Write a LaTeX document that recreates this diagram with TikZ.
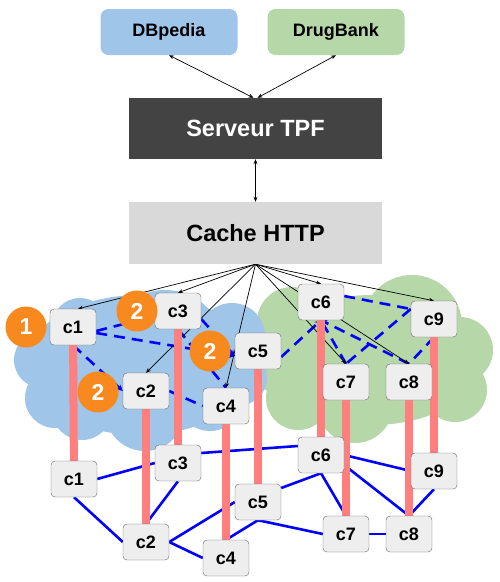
\documentclass[tikz,border=0pt]{standalone}
\usepackage{fontspec}
\setmainfont{Liberation Sans}
\usetikzlibrary{arrows.meta}
\definecolor{dbblue}{HTML}{9FC5E8}
\definecolor{dbgreen}{HTML}{B6D7A8}
\definecolor{tpfdark}{HTML}{434343}
\definecolor{cachegray}{HTML}{D9D9D9}
\definecolor{nodefill}{HTML}{EEEEEE}
\definecolor{nodeline}{HTML}{666666}
\definecolor{hoporange}{HTML}{F7891F}
\definecolor{netblue}{HTML}{0000FF}
\definecolor{barred}{HTML}{FF7F7F}
\pgfdeclarelayer{clouds}
\pgfdeclarelayer{links}
\pgfsetlayers{clouds,links,main}
\tikzset{
  client/.style={draw=nodeline,fill=nodefill,rounded corners=4pt,
    minimum width=46pt,minimum height=36pt,inner sep=0pt,
    font=\fontsize{18}{20}\selectfont\bfseries},
  hop/.style={circle,fill=hoporange,text=white,minimum size=41pt,
    inner sep=0pt,font=\fontsize{23}{25}\selectfont\bfseries},
  dataset/.style={rounded corners=8pt,minimum width=137pt,
    minimum height=46pt,font=\fontsize{18}{20}\selectfont\bfseries},
  tier/.style={minimum width=253pt,minimum height=61pt,
    font=\fontsize{23.5}{26}\selectfont\bfseries},
  fetch/.style={-{Stealth[length=5pt,width=4pt]},line width=0.7pt},
  pair/.style={{Stealth[length=5pt,width=4pt]}-{Stealth[length=5pt,width=4pt]},
    line width=0.7pt},
  peer/.style={draw=netblue,line width=2.6pt,dash pattern=on 11pt off 7pt},
  hopend/.style={-{Stealth[length=6pt,width=6pt]}},
  wire/.style={draw=netblue,line width=2.6pt},
  stack/.style={draw=barred,line width=8pt},
}
\begin{document}
\begin{tikzpicture}[x=1pt,y=-1pt]
  \useasboundingbox (0,0) rectangle (499,582);
  % sources, server and cache
  \node[dataset,fill=dbblue] (db) at (169,32) {DBpedia};
  \node[dataset,fill=dbgreen] (drug) at (336,32) {DrugBank};
  \node[tier,fill=tpfdark,text=white] (tpf) at (255.5,128.5) {Serveur TPF};
  \node[tier,fill=cachegray,minimum height=62pt] (cache) at (255.5,233) {Cache HTTP};
  % clients, upper layer
  \node[client] (t1) at (73,327) {c1};
  \node[client] (t2) at (146,391) {c2};
  \node[client] (t3) at (178,311) {c3};
  \node[client] (t4) at (226,406) {c4};
  \node[client] (t5) at (258,351) {c5};
  \node[client] (t6) at (321,302) {c6};
  \node[client] (t7) at (346,382) {c7};
  \node[client] (t8) at (409,382) {c8};
  \node[client] (t9) at (434,319) {c9};
  % clients, lower layer
  \node[client] (b1) at (74,479) {c1};
  \node[client] (b2) at (146,542) {c2};
  \node[client] (b3) at (178,463) {c3};
  \node[client] (b4) at (226,558) {c4};
  \node[client] (b5) at (258,502) {c5};
  \node[client] (b6) at (321,455) {c6};
  \node[client] (b7) at (346,534) {c7};
  \node[client] (b8) at (409,534) {c8};
  \node[client] (b9) at (434,471) {c9};
  % hops
  \node[hop] (h1) at (26,327) {1};
  \node[hop] (h3) at (137,311) {2};
  \node[hop] (h5) at (210,351) {2};
  \node[hop] (h2) at (98,392) {2};
  \begin{pgfonlayer}{clouds}
    \fill[dbgreen] (372,360) ellipse[x radius=110pt,y radius=65pt];
    \fill[dbgreen] (292,322) circle[radius=35pt];
    \fill[dbgreen] (412,325) circle[radius=50pt];
    \fill[dbgreen] (460,350) circle[radius=33pt];
    \fill[dbgreen] (282,365) circle[radius=30pt];
    \fill[dbgreen] (298,398) circle[radius=32pt];
    \fill[dbgreen] (355,405) circle[radius=38pt];
    \fill[dbgreen] (455,390) circle[radius=32pt];
    \fill[dbblue] (140,365) ellipse[x radius=115pt,y radius=70pt];
    \fill[dbblue] (80,326) circle[radius=28pt];
    \fill[dbblue] (165,350) circle[radius=60pt];
    \fill[dbblue] (232,336) circle[radius=33pt];
    \fill[dbblue] (42,360) circle[radius=28pt];
    \fill[dbblue] (55,398) circle[radius=30pt];
    \fill[dbblue] (82,410) circle[radius=30pt];
    \fill[dbblue] (145,411) circle[radius=40pt];
    \fill[dbblue] (210,398) circle[radius=33pt];
    \fill[dbblue] (240,378) circle[radius=27pt];
  \end{pgfonlayer}
  \begin{pgfonlayer}{links}
    % lower network
    \draw[wire] (b1.east) -- (b3.west);
    \draw[wire] ([yshift=10pt]b3.east) -- ([yshift=9pt]b6.west);
    \draw[wire] (b1.south) -- (b2.west);
    \draw[wire] (b3.south) -- (b2.north);
    \draw[wire] (b2.east) -- (b5.west);
    \draw[wire] (b2.east) -- (b4.west);
    \draw[wire] (b4.north) -- (b5.south);
    \draw[wire] ([yshift=14pt]b5.east) -- (b6.south);
    \draw[wire] (b5.south) -- (b7.west);
    \draw[wire] (b6.south) -- (b7.north);
    \draw[wire] (b6.east) -- (b9.west);
    \draw[wire] ([yshift=-10pt]b6.east) -- (b8.north);
    \draw[wire] (b9.south) -- (b8.north);
    \draw[wire] (b7.east) -- (b8.west);
    % upper network
    \draw[peer,hopend] ([yshift=-4pt]t1.east) -- ([yshift=-5pt]t3.west);
    \draw[peer,hopend] ([yshift=-6pt]t1.east) -- ([yshift=-5pt]t5.west);
    \draw[peer,hopend] (t1.south) -- (t2.west);
    \draw[peer,hopend] ([yshift=-8pt]t3.east) -- ([yshift=-5pt]t5.west);
    \draw[peer] (t3.south) -- (t4.north);
    \draw[peer] (t2.east) -- (t4.west);
    \draw[peer,hopend] ([yshift=-6pt]t5.east) -- (t6.south);
    \draw[peer,hopend] (t7.north) -- (t6.south);
    \draw[peer,hopend] (t8.north) -- (t6.south);
    \draw[peer] ([yshift=6pt]t6.east) -- ([yshift=10pt]t9.west);
    \draw[peer] ([yshift=10pt]t9.west) -- (t7.north);
    \draw[peer] (t9.south) -- (t8.north);
    % requests
    \draw[pair] (db.south) -- ([xshift=-2pt]tpf.north);
    \draw[pair] (drug.south) -- ([xshift=2pt]tpf.north);
    \draw[pair] (tpf.south) -- (cache.north);
    \draw[fetch] (cache.south) -- ([xshift=5pt]t1.north);
    \draw[fetch] (cache.south) -- (t3.north);
    \draw[fetch] (cache.south) -- (t2.north);
    \draw[fetch] (cache.south) -- (t4.north);
    \draw[fetch] (cache.south) -- (t6.north);
    \draw[fetch] (cache.south) -- (t7.north);
    \draw[fetch] (cache.south) -- (t8.north);
    \draw[fetch] (cache.south) -- (t9.north);
    % same client
    \draw[stack] (t1) -- (b1);
    \draw[stack] (t2) -- (b2);
    \draw[stack] (t3) -- (b3);
    \draw[stack] (t4) -- (b4);
    \draw[stack] (t5) -- (b5);
    \draw[stack] (t6) -- (b6);
    \draw[stack] (t7) -- (b7);
    \draw[stack] (t8) -- (b8);
    \draw[stack] (t9) -- (b9);
  \end{pgfonlayer}
\end{tikzpicture}
\end{document}
